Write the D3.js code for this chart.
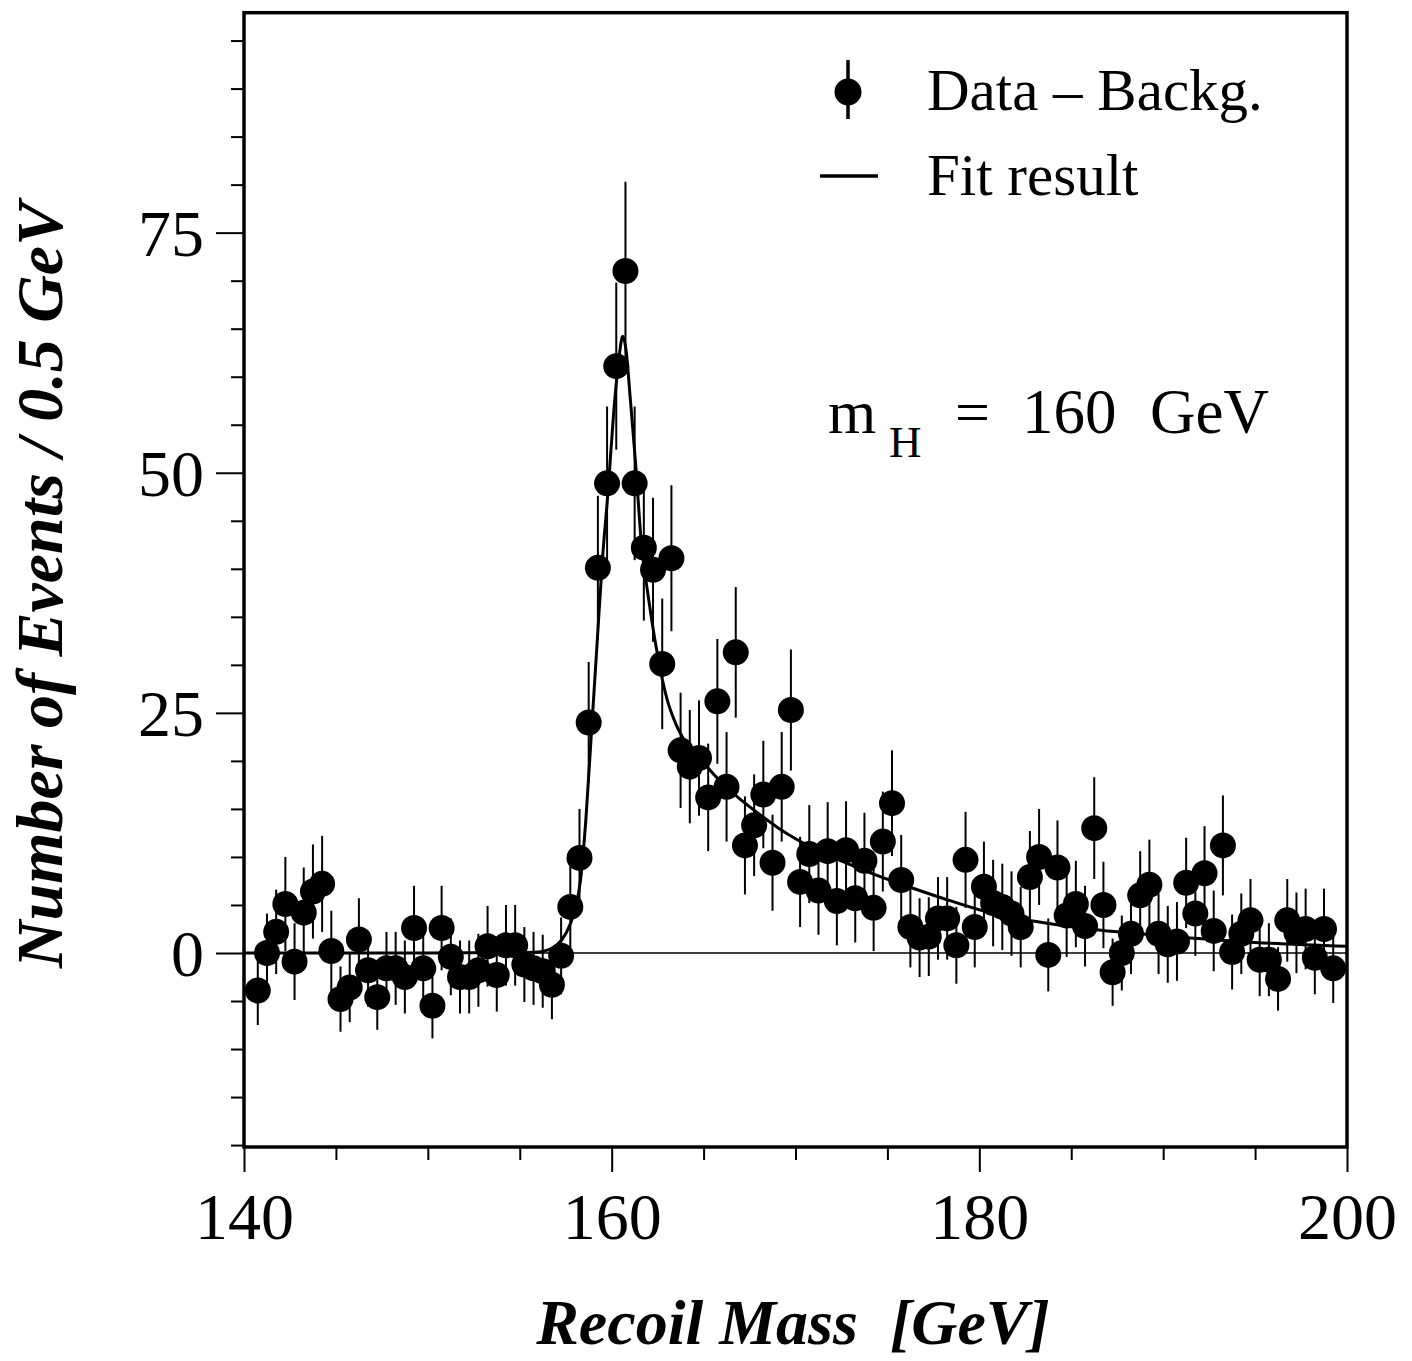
<!DOCTYPE html>
<html><head><meta charset="utf-8">
<script src="https://cdn.jsdelivr.net/npm/d3@7"></script>
<style>body{margin:0;background:#fff} svg{display:block}</style>
</head><body><svg id="c" width="1412" height="1361"></svg>
<script>
// ---- data ----
const mass = [140.75,141.25,141.75,142.25,142.75,143.25,143.75,144.25,144.75,145.25,
145.75,146.25,146.75,147.25,147.75,148.25,148.75,149.25,149.75,150.25,
150.75,151.25,151.75,152.25,152.75,153.25,153.75,154.25,154.75,155.25,
155.75,156.25,156.75,157.25,157.75,158.25,158.75,159.25,159.75,160.25,
160.75,161.25,161.75,162.25,162.75,163.25,163.75,164.25,164.75,165.25,
165.75,166.25,166.75,167.25,167.75,168.25,168.75,169.25,169.75,170.25,
170.75,171.25,171.75,172.25,172.75,173.25,173.75,174.25,174.75,175.25,
175.75,176.25,176.75,177.25,177.75,178.25,178.75,179.25,179.75,180.25,
180.75,181.25,181.75,182.25,182.75,183.25,183.75,184.25,184.75,185.25,
185.75,186.25,186.75,187.25,187.75,188.25,188.75,189.25,189.75,190.25,
190.75,191.25,191.75,192.25,192.75,193.25,193.75,194.25,194.75,195.25,
195.75,196.25,196.75,197.25,197.75,198.25,198.75,199.25];
const events = [-3.9,0.0,2.2,5.1,-0.9,4.2,6.4,7.2,0.2,-4.8,
-3.6,1.4,-1.8,-4.6,-1.6,-1.6,-2.5,2.6,-1.6,-5.5,
2.6,-0.4,-2.5,-2.5,-1.8,0.7,-2.3,0.8,0.8,-1.2,
-1.6,-1.9,-3.3,-0.3,4.8,9.9,24.0,40.1,48.9,61.1,
71.0,48.9,42.2,39.9,30.1,41.1,21.1,19.4,20.3,16.2,
26.2,17.3,31.3,11.2,13.3,16.5,9.4,17.3,25.3,7.4,
10.3,6.5,10.6,5.4,10.7,5.7,9.6,4.7,11.6,15.6,
7.6,2.7,1.6,1.7,3.6,3.6,0.8,9.7,2.7,6.9,
5.2,4.8,4.1,2.7,7.9,10.0,-0.2,8.9,3.9,5.1,
2.8,13.0,5.0,-2.0,0.0,2.0,6.0,7.1,2.0,0.9,
1.2,7.3,4.1,8.3,2.3,11.2,0.1,2.0,3.4,-0.7,
-0.7,-2.7,3.4,2.1,2.5,-0.5,2.5,-1.6];
const errors = [3.6,4.1,4.4,4.9,4.0,4.7,4.9,5.0,4.2,3.4,
3.6,4.3,3.8,3.4,3.8,3.8,3.8,4.4,3.8,3.4,
4.4,4.0,3.8,3.8,3.8,4.2,3.8,4.2,4.2,3.9,
3.8,3.8,3.6,4.0,4.6,5.1,6.3,7.5,8.0,8.7,
9.3,8.0,7.6,7.5,6.8,7.6,6.0,5.9,6.0,5.6,
6.5,5.7,6.8,5.1,5.3,5.6,5.0,5.7,6.3,4.7,
5.1,4.6,5.1,4.6,5.1,4.6,5.0,4.5,5.2,5.5,
4.7,4.2,4.1,4.1,4.3,4.3,4.0,5.0,4.2,4.7,
4.5,4.5,4.4,4.2,4.8,5.0,3.8,4.9,4.3,4.5,
4.2,5.3,4.5,3.5,3.9,4.2,4.6,4.7,4.2,4.0,
4.1,4.7,4.4,4.9,4.2,5.2,3.9,4.2,4.3,3.8,
3.8,3.3,4.3,4.2,4.2,3.8,4.2,3.6];
const fitMass = [140,150,155,156,156.5,157,157.5,158,158.3,158.6,158.9,159.2,159.5,159.8,160.1,160.4,160.6,160.8,161.0,161.3,161.6,162.0,162.5,163.0,163.5,164.0,165,166,167,168,169,170,172,174,176,178,180,183,186,190,195,200];
const fitValue = [0,0,0.05,0.1,0.3,0.8,2.0,4.5,7.5,14,23,32,41,48,56,62,64.2,62.5,58,51,43,37,31,26.5,23.8,22,19.8,17.7,16,14.5,13.1,11.9,10,8.4,7.0,5.7,4.5,3.3,2.5,1.8,1.1,0.7];
const xMajorTicks = [140,160,180,200];
const xMinorTicks = [145,150,155,165,170,175,185,190,195];
const yMajorTicks = [0,25,50,75];
const yMinorTicks = [-20,-15,-10,-5,5,10,15,20,30,35,40,45,55,60,65,70,80,85,90,95];

// ---- layout ----
const FONT = "'Liberation Serif','Times New Roman',Times,serif";
const L = 244, R = 1347, T = 12.7, B = 1147;
const svg = d3.select("#c");
const x = d3.scaleLinear().domain([140,200]).range([L,R]);
const y = d3.scaleLinear().domain([-20.2,97.9]).range([B,T]);

// axes
const gx = svg.append("g").attr("transform",`translate(0,${B})`);
gx.call(d3.axisBottom(x).tickValues(xMinorTicks).tickSize(13).tickFormat(""));
const gxM = svg.append("g").attr("transform",`translate(0,${B})`);
gxM.call(d3.axisBottom(x).tickValues(xMajorTicks).tickSize(25).tickPadding(20).tickFormat(d3.format("d")));
const gy = svg.append("g").attr("transform",`translate(${L},0)`);
gy.call(d3.axisLeft(y).tickValues(yMinorTicks).tickSize(13).tickFormat(""));
const gyM = svg.append("g").attr("transform",`translate(${L},0)`);
gyM.call(d3.axisLeft(y).tickValues(yMajorTicks).tickSize(28).tickPadding(12).tickFormat(d3.format("d")));
svg.selectAll(".domain").remove();
svg.selectAll(".tick line").attr("stroke","#000").attr("stroke-width",2);
svg.selectAll(".tick text").attr("font-family",FONT).attr("font-size",66).attr("fill","#000");
gxM.selectAll(".tick text").attr("dy","0.71em");
gyM.selectAll(".tick text").attr("dy","0.34em");

// zero line
svg.append("line").attr("x1",L).attr("x2",R).attr("y1",y(0)).attr("y2",y(0))
  .attr("stroke","#000").attr("stroke-width",1.5);

// fit curve
const fitData = fitMass.map((m,i)=>[m,fitValue[i]]);
svg.append("path").datum(fitData)
  .attr("d", d3.line().x(d=>x(d[0])).y(d=>y(d[1])).curve(d3.curveMonotoneX))
  .attr("fill","none").attr("stroke","#000").attr("stroke-width",3);

// data points
const pts = mass.map((m,i)=>({m, v:events[i], e:errors[i]}));
svg.append("g").selectAll("line").data(pts).join("line")
  .attr("x1",d=>x(d.m)).attr("x2",d=>x(d.m))
  .attr("y1",d=>y(d.v+d.e)).attr("y2",d=>y(d.v-d.e))
  .attr("stroke","#000").attr("stroke-width",2);
svg.append("g").selectAll("circle").data(pts).join("circle")
  .attr("cx",d=>x(d.m)).attr("cy",d=>y(d.v)).attr("r",13).attr("fill","#000");

// frame
svg.append("rect").attr("x",L).attr("y",T).attr("width",R-L).attr("height",B-T)
  .attr("fill","none").attr("stroke","#000").attr("stroke-width",3.5);

// legend
const lg = svg.append("g").attr("font-family",FONT).attr("font-size",59).attr("fill","#000");
lg.append("line").attr("x1",848).attr("x2",848).attr("y1",60).attr("y2",119).attr("stroke","#000").attr("stroke-width",3.5);
lg.append("circle").attr("cx",848).attr("cy",92).attr("r",13.5).attr("fill","#000");
lg.append("text").attr("x",927).attr("y",110).text("Data – Backg.");
lg.append("line").attr("x1",820).attr("x2",878).attr("y1",176).attr("y2",176).attr("stroke","#000").attr("stroke-width",3.5);
lg.append("text").attr("x",927).attr("y",195).text("Fit result");

// annotation
const an = svg.append("g").attr("font-family",FONT).attr("fill","#000");
an.append("text").attr("x",828).attr("y",433).attr("font-size",62).text("m");
an.append("text").attr("x",889).attr("y",457).attr("font-size",45).text("H");
an.append("text").attr("x",955).attr("y",433).attr("font-size",62).text("=");
an.append("text").attr("x",1022).attr("y",433).attr("font-size",63).text("160");
an.append("text").attr("x",1150).attr("y",433).attr("font-size",63).text("GeV");

// axis titles
svg.append("text").attr("x",793).attr("y",1344).attr("text-anchor","middle")
  .attr("font-family",FONT).attr("font-size",64).attr("font-weight","bold").attr("font-style","italic")
  .attr("xml:space","preserve").style("white-space","pre").text("Recoil Mass  [GeV]");
svg.append("text").attr("transform","translate(62,585) rotate(-90)").attr("text-anchor","middle")
  .attr("font-family",FONT).attr("font-size",66).attr("font-weight","bold").attr("font-style","italic")
  .text("Number of Events / 0.5 GeV");
</script></body></html>
